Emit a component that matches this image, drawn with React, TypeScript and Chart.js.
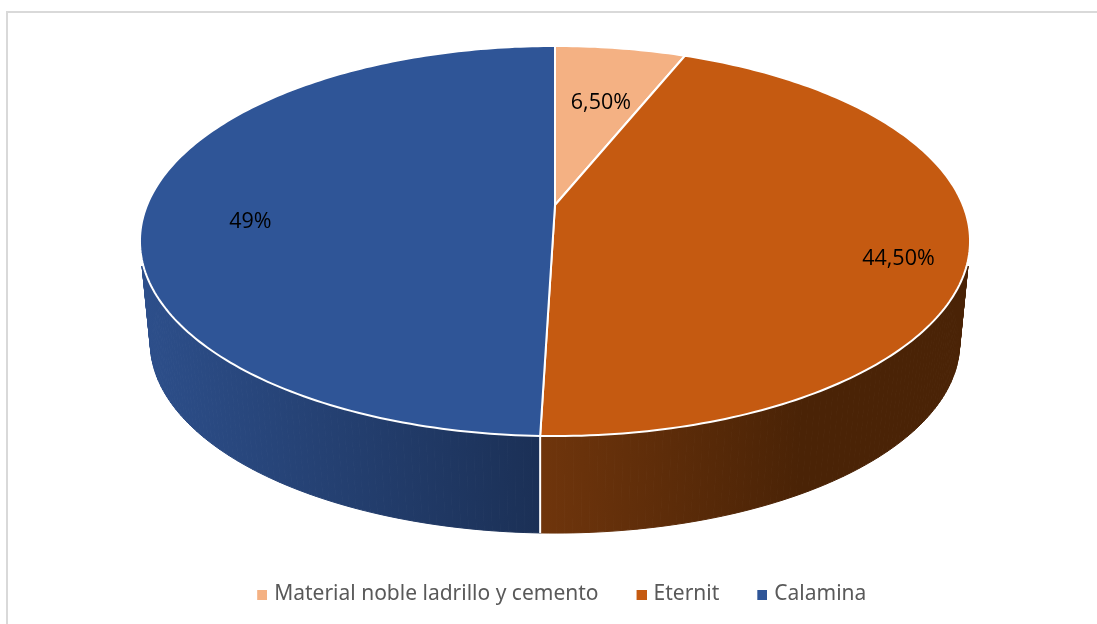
import { useEffect, useRef } from "react";
import { Chart, registerables } from "chart.js";

Chart.register(...registerables);

const categories = ["Material noble ladrillo y cemento", "Eternit", "Calamina"];
const shares = [6.5, 44.5, 49];
const shareLabels = ["6,50%", "44,50%", "49%"];
const faceColors = ["#F4B183", "#C55A11", "#2F5597"];
const wallStops = [
  ["#7a4a2a", "#7a4a2a"],
  ["#6f350c", "#4a2306"],
  ["#2d4f8b", "#1b3056"],
];
// label anchors on the unit disc of the pie
const labelSpots = [
  [0.125, -0.6],
  [0.8, 0.27],
  [-0.735, 0.086],
];

// Excel-like perspective of the pie
const CX = 555, CY = 205, A = 407.9, B = 188.4, K = 0.1846;
const BOTTOM_SCALE = 0.975, BOTTOM_DROP = 102.8;
const WALL_TOP_Y = 266;

const project = (u: number, v: number, bottom = false) => {
  const w = 1 - K * v;
  const s = bottom ? BOTTOM_SCALE : 1;
  return [CX + (s * A * u) / w, CY + (bottom ? BOTTOM_DROP : 0) + (s * B * v) / w];
};
const rim = (t: number, bottom = false) => project(Math.sin(t), -Math.cos(t), bottom);
// the reference's slice boundaries sit slightly before their true angles
const warp = (t: number) => {
  const d = Math.max(0, Math.sin(t / 2));
  return t - ((1.9 * Math.PI) / 180) * Math.pow(d, 0.15);
};

const legendMark = (color: string) => {
  const c = document.createElement("canvas");
  c.width = 17;
  c.height = 10;
  const x = c.getContext("2d")!;
  x.fillStyle = color;
  x.fillRect(7, 0, 10, 10);
  return c;
};

const pie3d = {
  id: "pie3d",
  beforeDatasetsDraw(chart: any) {
    const ctx: CanvasRenderingContext2D = chart.ctx;
    const arcs = chart.getDatasetMeta(0).data;
    const spans = arcs.map((a: any) => {
      const s = a.startAngle + Math.PI / 2;
      const e = a.endAngle + Math.PI / 2;
      return [s < 1e-6 ? 0 : warp(s), e > 2 * Math.PI - 1e-6 ? 2 * Math.PI : warp(e)];
    });
    const samples = (s: number, e: number) => {
      const n = Math.max(8, Math.ceil((e - s) * 60));
      return Array.from({ length: n + 1 }, (_, i) => s + ((e - s) * i) / n);
    };
    ctx.save();
    ctx.lineJoin = "round";
    // walls
    ctx.save();
    ctx.beginPath();
    ctx.rect(0, WALL_TOP_Y, chart.width, chart.height - WALL_TOP_Y);
    ctx.clip();
    spans.forEach(([s, e]: number[], i: number) => {
      if (i === 0) return;
      const ts = samples(s, e);
      const g = ctx.createLinearGradient(i === 1 ? 540 : 140, 0, i === 1 ? 800 : 540, 0);
      g.addColorStop(0, wallStops[i][0]);
      g.addColorStop(1, wallStops[i][1]);
      ctx.fillStyle = g;
      ctx.strokeStyle = g;
      ctx.lineWidth = 1;
      for (let j = 0; j < ts.length - 1; j++) {
        const p = [rim(ts[j]), rim(ts[j + 1]), rim(ts[j + 1], true), rim(ts[j], true)];
        ctx.beginPath();
        p.forEach((q, k) => (k ? ctx.lineTo(q[0], q[1]) : ctx.moveTo(q[0], q[1])));
        ctx.closePath();
        ctx.fill();
        ctx.stroke();
      }
    });
    ctx.restore();
    // white seam on the front wall
    const seam = spans[1][1];
    const a0 = rim(seam), a1 = rim(seam, true);
    ctx.strokeStyle = "#ffffff";
    ctx.lineWidth = 2;
    ctx.beginPath();
    ctx.moveTo(a0[0], a0[1]);
    ctx.lineTo(a0[0], a1[1]);
    ctx.stroke();
    // faces
    spans.forEach(([s, e]: number[], i: number) => {
      ctx.beginPath();
      ctx.moveTo(CX, CY);
      samples(s, e).forEach((t) => {
        const q = rim(t);
        ctx.lineTo(q[0], q[1]);
      });
      ctx.closePath();
      ctx.fillStyle = faceColors[i];
      ctx.fill();
      ctx.strokeStyle = "#ffffff";
      ctx.lineWidth = 2;
      ctx.stroke();
    });
    // labels
    ctx.fillStyle = "#000000";
    ctx.font = '21.5px "Open Sans"';
    ctx.textAlign = "center";
    ctx.textBaseline = "middle";
    shareLabels.forEach((t, i) => {
      const q = project(labelSpots[i][0], labelSpots[i][1]);
      ctx.fillText(t, q[0], q[1]);
    });
    ctx.restore();
    return false;
  },
};

export default function App() {
  const ref = useRef<HTMLCanvasElement>(null);
  useEffect(() => {
    const chart = new Chart(ref.current!, {
      type: "pie",
      data: {
        labels: categories,
        datasets: [{ data: shares, backgroundColor: faceColors, borderWidth: 0 }],
      },
      options: {
        responsive: false,
        animation: false,
        layout: { padding: { left: 23, bottom: 9 } },
        plugins: {
          tooltip: { enabled: false },
          legend: {
            position: "bottom",
            labels: {
              usePointStyle: true,
              pointStyleWidth: 10,
              boxHeight: 10,
              padding: 34.5,
              color: "#595959",
              font: { family: '"Noto Sans"', size: 21 },
              generateLabels: (c: any) =>
                (Chart as any).overrides.pie.plugins.legend.labels
                  .generateLabels(c)
                  .map((item: any, i: number) => ({ ...item, pointStyle: legendMark(faceColors[i]) })),
            },
          },
        },
      },
      plugins: [pie3d],
    });
    return () => chart.destroy();
  }, []);
  return (
    <div style={{ position: "fixed", left: 0, top: 0, width: 1097, height: 624, background: "#fff", overflow: "hidden" }}>
      <div
        style={{
          position: "absolute",
          left: 6,
          top: 11,
          width: 1200,
          height: 800,
          border: "2px solid #d9d9d9",
          boxSizing: "border-box",
        }}
      />
      <canvas ref={ref} width={1097} height={624} style={{ position: "absolute", left: 0, top: 0, display: "block" }} />
    </div>
  );
}
